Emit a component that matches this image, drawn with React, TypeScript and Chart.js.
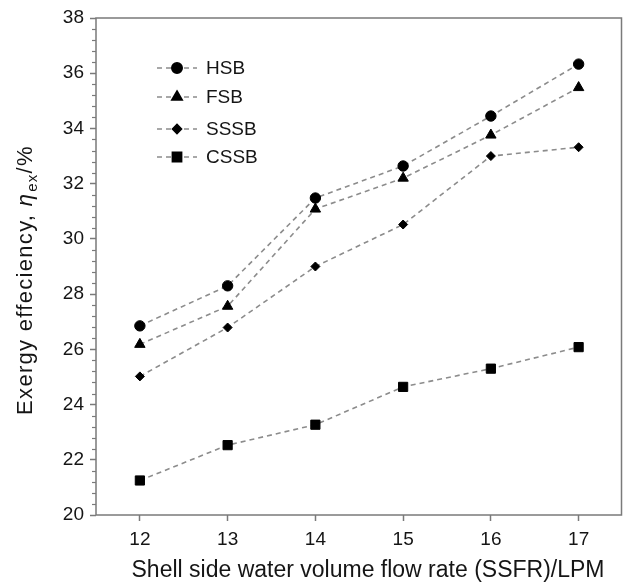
import React, { useEffect, useRef } from "react";
import { Chart, registerables } from "chart.js";
import { drawPoint } from "chart.js/helpers";

Chart.register(...registerables);

const flowRates = ["12", "13", "14", "15", "16", "17"];
const hsb = [26.85, 28.3, 31.48, 32.64, 34.45, 36.33];
const fsb = [26.18, 27.56, 31.08, 32.2, 33.76, 35.48];
const sssb = [25.02, 26.79, 29.0, 30.52, 33.0, 33.32];
const cssb = [21.25, 22.53, 23.27, 24.64, 25.3, 26.08];
const seriesNames = ["HSB", "FSB", "SSSB", "CSSB"];
const xTitle = "Shell side water volume flow rate (SSFR)/LPM";
const yTitleMain = "Exergy effeciency, ";
const yTitleSymbol = "η";
const yTitleSub = "ex";
const yTitleUnit = "/%";

const FONT = "'Liberation Sans', Arial, Helvetica, sans-serif";
const AXIS_COLOR = "#7a7a7a";
const LINE_COLOR = "#8c8c8c";
const TEXT_COLOR = "#151515";
const DASH = [5, 4];

const styles = [
  { pointStyle: "circle", radius: 5.2 },
  { pointStyle: "triangle", radius: 6 },
  { pointStyle: "rectRot", radius: 4.5 },
  { pointStyle: "rect", radius: 6.5 },
];

const framePlugin = {
  id: "frame",
  afterDraw(chart: any) {
    const { ctx, chartArea, scales } = chart;
    const { left, right, top, bottom } = chartArea;
    ctx.save();
    ctx.strokeStyle = AXIS_COLOR;
    ctx.lineWidth = 1.5;
    ctx.setLineDash([]);
    ctx.strokeRect(left, top, right - left - 1, bottom - top);
    const y = scales.y;
    ctx.lineWidth = 1.2;
    for (let i = 0; i <= 45; i++) {
      if (i % 5 === 0) continue;
      const v = 20 + i * 0.4;
      const py = Math.round(y.getPixelForValue(v)) + 0.5;
      ctx.beginPath();
      ctx.moveTo(left - 4, py);
      ctx.lineTo(left, py);
      ctx.stroke();
    }

    // legend
    const rows = [68, 97, 129, 157];
    chart.data.datasets.forEach((ds: any, i: number) => {
      const ry = rows[i];
      ctx.strokeStyle = LINE_COLOR;
      ctx.lineWidth = 1.6;
      ctx.setLineDash(DASH);
      ctx.beginPath();
      ctx.moveTo(157, ry);
      ctx.lineTo(197, ry);
      ctx.stroke();
      ctx.setLineDash([]);
      ctx.fillStyle = "#000";
      ctx.strokeStyle = "#000";
      drawPoint(
        ctx,
        { pointStyle: ds.pointStyle, radius: ds.pointRadius, rotation: 0, borderWidth: 1 },
        177,
        ry
      );
      ctx.fillStyle = TEXT_COLOR;
      ctx.font = `19px ${FONT}`;
      ctx.textAlign = "left";
      ctx.textBaseline = "middle";
      ctx.fillText(ds.label, 206, ry + 1);
    });

    // x title
    ctx.fillStyle = TEXT_COLOR;
    ctx.font = `23px ${FONT}`;
    ctx.textAlign = "center";
    ctx.textBaseline = "alphabetic";
    ctx.fillText(xTitle, 368, 577);

    // y title with subscript
    const mainFont = `22px ${FONT}`;
    const symFont = `italic 22px ${FONT}`;
    const subFont = `15px ${FONT}`;
    (ctx as any).letterSpacing = "1.3px";
    ctx.font = mainFont;
    const w1 = ctx.measureText(yTitleMain).width;
    ctx.font = symFont;
    const w2 = ctx.measureText(yTitleSymbol).width + 1;
    ctx.font = subFont;
    const w3 = ctx.measureText(yTitleSub).width;
    ctx.font = mainFont;
    const w4 = ctx.measureText(yTitleUnit).width;
    const total = w1 + w2 + w3 + w4;
    ctx.save();
    ctx.translate(32, 280);
    ctx.rotate(-Math.PI / 2);
    ctx.fillStyle = TEXT_COLOR;
    ctx.textAlign = "left";
    ctx.textBaseline = "alphabetic";
    let x = -total / 2;
    ctx.font = mainFont;
    ctx.fillText(yTitleMain, x, 0);
    x += w1;
    ctx.font = symFont;
    ctx.fillText(yTitleSymbol, x, 0);
    x += w2;
    ctx.font = subFont;
    ctx.fillText(yTitleSub, x, 5);
    x += w3;
    ctx.font = mainFont;
    ctx.fillText(yTitleUnit, x, 0);
    ctx.restore();
    (ctx as any).letterSpacing = "0px";
    ctx.restore();
  },
};

export default function App() {
  const ref = useRef<HTMLCanvasElement | null>(null);

  useEffect(() => {
    if (!ref.current) return;
    const values = [hsb, fsb, sssb, cssb];
    const chart = new Chart(ref.current, {
      type: "line",
      data: {
        labels: flowRates,
        datasets: values.map((v, i) => ({
          label: seriesNames[i],
          data: v,
          borderColor: LINE_COLOR,
          borderWidth: 1.6,
          borderDash: DASH,
          pointStyle: styles[i].pointStyle as any,
          pointRadius: styles[i].radius,
          pointHoverRadius: styles[i].radius,
          pointBackgroundColor: "#000",
          pointBorderColor: "#000",
          pointBorderWidth: 1,
          tension: 0,
          fill: false,
        })),
      },
      options: {
        responsive: false,
        animation: false,
        layout: { padding: { top: 18, right: 0, left: 0, bottom: 0 } },
        plugins: {
          legend: { display: false },
          tooltip: { enabled: false },
        },
        scales: {
          x: {
            type: "category",
            offset: true,
            border: { display: false },
            grid: {
              drawOnChartArea: false,
              drawTicks: true,
              tickLength: 6,
              tickColor: AXIS_COLOR,
              tickWidth: 1.5,
            },
            ticks: {
              color: TEXT_COLOR,
              font: { family: FONT, size: 19 },
              padding: 7,
              maxRotation: 0,
            },
            title: { display: false, text: xTitle },
            afterFit: (s: any) => {
              s.height = 68;
            },
          },
          y: {
            type: "linear",
            min: 20,
            max: 38,
            border: { display: false },
            grid: {
              drawOnChartArea: false,
              drawTicks: true,
              tickLength: 6,
              tickColor: AXIS_COLOR,
              tickWidth: 1.5,
            },
            ticks: {
              stepSize: 2,
              color: TEXT_COLOR,
              font: { family: FONT, size: 19 },
              padding: 6,
            },
            afterFit: (s: any) => {
              s.width = 96;
            },
          },
        },
      },
      plugins: [framePlugin],
    });
    return () => chart.destroy();
  }, []);

  return (
    <div style={{ position: "absolute", left: 0, top: 0, width: 630, height: 583, background: "#fff" }}>
      <canvas ref={ref} width={630} height={583} style={{ display: "block" }} />
    </div>
  );
}
